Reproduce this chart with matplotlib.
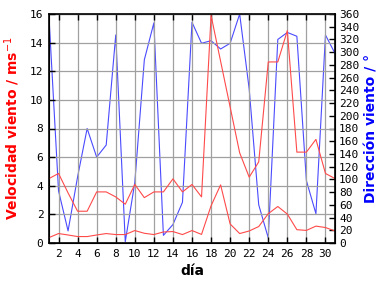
import matplotlib
matplotlib.use("Agg")
import matplotlib.pyplot as plt

# datos del mes
dias = list(range(1, 32))
vel_max = [4.5, 4.86, 3.5, 2.22, 2.22, 3.57, 3.57, 3.22, 2.71, 4.09,
           3.17, 3.57, 3.57, 4.48, 3.57, 4.09, 3.22, 15.9, 12.7, 9.5,
           6.3, 4.6, 5.67, 12.65, 12.65, 14.84, 6.35, 6.35, 7.24, 4.86, 4.5]
vel_media = [0.38, 0.66, 0.56, 0.45, 0.45, 0.56, 0.66, 0.59, 0.59, 0.87,
             0.68, 0.59, 0.77, 0.8, 0.59, 0.87, 0.6, 2.6, 4.06, 1.33,
             0.66, 0.84, 1.15, 2.05, 2.55, 2.02, 0.93, 0.88, 1.18, 1.08, 0.84]
direccion = [355, 82, 19, 104, 180, 135, 154, 327, 2, 95,
             288, 346, 12, 29, 64, 347, 314, 318, 305, 314,
             360, 242, 60, 8, 320, 331, 325, 98, 46, 327, 298]

xticks = list(range(2, 31, 2))
rojo = "#ff4a4a"
azul = "#4a4aff"

fig = plt.figure(figsize=(3.84, 2.88), dpi=100)
ax = fig.add_axes([49/384, 45/288, 286/384, 229/288])
ax2 = ax.twinx()

ax.plot(dias, vel_max, color=rojo, lw=0.8)
ax.plot(dias, vel_media, color=rojo, lw=0.8)
ax2.plot(dias, direccion, color=azul, lw=0.8)

ax.set_xlim(1, 31)
ax.set_ylim(0, 16)
ax2.set_ylim(0, 360)
ax.set_xticks(xticks)
ax.set_yticks(range(0, 17, 2))
ax2.set_yticks(range(0, 361, 20))

ax.grid(True, color="#a0a0a0", lw=0.9)
ax.set_axisbelow(True)
ax.set_zorder(ax2.get_zorder() + 1)
ax.patch.set_visible(False)

mono = "DejaVu Sans Mono"
ax.tick_params(axis="both", direction="in", length=4, width=1, labelsize=8,
               top=True, pad=4)
ax2.tick_params(axis="y", direction="in", length=4, width=1, labelsize=8, pad=3)
for lab in ax.get_xticklabels() + ax.get_yticklabels() + ax2.get_yticklabels():
    lab.set_family(mono)

for sp in ax.spines.values():
    sp.set_linewidth(1.2)

ax.set_xlabel("día", fontsize=10, fontweight="bold", labelpad=4)
ax.set_ylabel("Velocidad viento / ms$^{-1}$", fontsize=10, fontweight="bold",
              color="red", labelpad=6)
ax2.set_ylabel("Dirección viento / °", fontsize=10, fontweight="bold",
               color="blue", labelpad=4)

fig.savefig("out.png", dpi=100)
